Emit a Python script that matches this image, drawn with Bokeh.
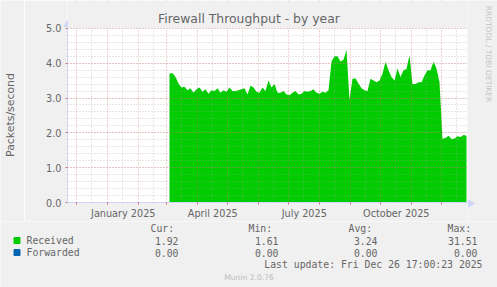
import datetime as dt
from bokeh.plotting import figure
from bokeh.layouts import column, row
from bokeh.models import (FixedTicker, Range1d, ColumnDataSource, PrintfTickFormatter,
                          BoxAnnotation, Label)
from bokeh.core.properties import value
from bokeh.embed import file_html
from bokeh.resources import INLINE

# ---------------- data ----------------
title = "Firewall Throughput - by year"
y_label = "Packets/second"
watermark = "RRDTOOL / TOBI OETIKER"
footer = "Munin 2.0.76"
last_update = "Last update: Fri Dec 26 17:00:23 2025"

series_names = ["Received", "Forwarded"]
series_colors = ["#00CC00", "#0066B3"]
stat_headers = ["Cur:", "Min:", "Avg:", "Max:"]
stat_cur = ["1.92", "0.00"]
stat_min = ["1.61", "0.00"]
stat_avg = ["3.24", "0.00"]
stat_max = ["31.51", "0.00"]

range_start = "2024-11-21 17:00"
range_end = "2025-12-26 17:00"
received_start = "2025-03-03 17:00"
received_step_days = 3
received = [
    3.70, 3.72, 3.60, 3.42, 3.30, 3.32, 3.22, 3.28, 3.15, 3.25,
    3.30, 3.18, 3.25, 3.12, 3.22, 3.20, 3.28, 3.15, 3.22, 3.18,
    3.30, 3.20, 3.20, 3.22, 3.25, 3.28, 3.10, 3.35, 3.30, 3.18,
    3.15, 3.30, 3.20, 3.50, 3.30, 3.40, 3.15, 3.15, 3.20, 3.10,
    3.08, 3.15, 3.20, 3.10, 3.12, 3.20, 3.18, 3.20, 3.25, 3.15,
    3.12, 3.18, 3.15, 3.22, 4.05, 4.20, 4.20, 4.05, 4.10, 4.38,
    2.95, 3.55, 3.56, 3.42, 3.28, 3.22, 3.20, 3.55, 3.50, 3.45,
    3.50, 3.70, 4.04, 3.80, 3.60, 3.50, 3.85, 3.60, 3.80, 3.83,
    4.23, 3.40, 3.40, 3.45, 3.45, 3.65, 3.80, 3.80, 4.04, 3.85,
    3.45, 1.83, 1.85, 1.92, 1.82, 1.84, 1.90, 1.88, 1.94, 1.92,
]
y_max = 5
y_ticks = [0, 1, 2, 3, 4, 5]
y_minor_step = 0.2
x_label_months = [(2025, 1), (2025, 4), (2025, 7), (2025, 10)]
x_label_texts = ["January 2025", "April 2025", "July 2025", "October 2025"]

# ---------------- layout constants ----------------
W, H = 497, 287
FL, FR, FT, FB = 67, 467, 28, 203      # chart area edges in page pixels
LP = 24                                 # width of the y-label strip
MAIN_H = 221                            # bottom of main chart block
FONT = "DejaVu Sans"
MONO = "DejaVu Sans Mono"
TXT = "#666666"
AX = "#CFD6F8"
MGRID = "#D07070"
GRID = "#A0A0A0"
BG = "#F0F0F0"


def ms(d):
    return (d - dt.datetime(1970, 1, 1)).total_seconds() * 1000.0


def parse(s):
    return dt.datetime.strptime(s, "%Y-%m-%d %H:%M")


x0 = parse(range_start)
x1 = parse(range_end)
rs = parse(received_start)
xs = [ms(rs + dt.timedelta(days=received_step_days * i)) for i in range(len(received))]

month_starts, mid_months = [], []
yy, mm = x0.year, x0.month
while True:
    d = dt.datetime(yy, mm, 1)
    if d > x1:
        break
    if d >= x0:
        month_starts.append(ms(d))
    mid = d + dt.timedelta(days=15)
    if x0 <= mid <= x1:
        mid_months.append(ms(mid))
    mm += 1
    if mm > 12:
        mm, yy = 1, yy + 1

label_pos = []
for (ly, lm) in x_label_months:
    a = dt.datetime(ly, lm, 1)
    b = dt.datetime(ly + (lm == 12), lm % 12 + 1, 1)
    label_pos.append(ms(a + (b - a) / 2))


def pane(left, right, top, bottom):
    """A plain figure whose data coordinates equal page pixels (y measured from page top)."""
    f = figure(width=right - left, height=bottom - top, output_backend="svg",
               toolbar_location=None, title=None,
               x_range=Range1d(left, right), y_range=Range1d(H - bottom, H - top),
               min_border=0, frame_align=False)
    f.min_border_left = f.min_border_right = f.min_border_top = f.min_border_bottom = 0
    f.axis.visible = False
    f.grid.visible = False
    f.outline_line_color = None
    f.background_fill_color = BG
    f.border_fill_color = BG
    return f


def txt(f, s, x, y, size, font=FONT, color=TXT, align="left", angle=0.0):
    return f.text(x=[x], y=[y], text=[s], text_font=value(font), text_font_size=size,
                  text_color=color, text_align=align, text_baseline="middle", angle=angle)


# ---------------- y-label strip ----------------
lp = pane(0, LP, 0, MAIN_H)
txt(lp, y_label, 10, H - 114.5, "10.9px", align="center", angle=1.5708)

# ---------------- main chart (frame reaches page top; area above y_max painted as background) ----
upp = y_max / (FB - FT)                 # data units per pixel
y_top_val = y_max + FT * upp
p = figure(width=FR - LP, height=MAIN_H, output_backend="svg", toolbar_location=None,
           title=None, x_range=Range1d(ms(x0), ms(x1)), y_range=Range1d(0, y_top_val),
           frame_align=False, min_border_left=FL - LP, min_border_right=0,
           min_border_top=0, min_border_bottom=MAIN_H - FB)
p.background_fill_color = "white"
p.border_fill_color = BG
p.outline_line_color = None

src = ColumnDataSource(dict(x=xs, y=received, z=[0] * len(received)))
p.varea(x="x", y1="z", y2="y", source=src, fill_color=series_colors[0])

p.xgrid.ticker = FixedTicker(ticks=month_starts, minor_ticks=mid_months)
p.ygrid.ticker = FixedTicker(ticks=y_ticks,
                             minor_ticks=[round(i * y_minor_step, 2) for i in range(int(y_max / y_minor_step) + 1)])
for g in (p.xgrid, p.ygrid):
    g.grid_line_color = MGRID
    g.grid_line_alpha = 0.6
    g.grid_line_dash = "1 2"
    g.minor_grid_line_color = GRID
    g.minor_grid_line_alpha = 0.5
    g.minor_grid_line_dash = "1 2"
    g.level = "overlay"

# background above the chart area
p.add_layout(BoxAnnotation(bottom=y_max, fill_color=BG, fill_alpha=1.0, line_color=None,
                           level="overlay"))
# title, drawn on top of that band
p.add_layout(Label(x=ms(x0) + (248.5 - FL) * (ms(x1) - ms(x0)) / (FR - FL), y=(FB - 18) * upp,
                   text=title, text_font=FONT, text_font_size="12.4px", text_color=TXT,
                   text_align="center", text_baseline="middle", level="overlay"))

p.yaxis.ticker = FixedTicker(ticks=y_ticks)
p.yaxis.bounds = (0, y_max)
p.yaxis.formatter = PrintfTickFormatter(format="%.1f")
p.xaxis.ticker = FixedTicker(ticks=label_pos, minor_ticks=month_starts)
p.xaxis.major_label_overrides = {v: t for v, t in zip(label_pos, x_label_texts)}
for ax in (p.xaxis[0], p.yaxis[0]):
    ax.axis_line_color = AX
    ax.major_label_text_color = TXT
    ax.major_label_text_font = FONT
    ax.major_label_text_font_size = "9.7px"
    ax.major_tick_in = 0
    ax.minor_tick_in = 0
p.yaxis.major_tick_out = 2
p.yaxis.major_tick_line_color = MGRID
p.yaxis.minor_tick_out = 2
p.yaxis.minor_tick_line_color = None
p.yaxis.major_label_standoff = 4
p.xaxis.major_tick_out = 0
p.xaxis.major_tick_line_color = None
p.xaxis.minor_tick_out = 2
p.xaxis.minor_tick_line_color = MGRID
p.xaxis.major_label_standoff = 3

# y-axis arrow above the chart area
r = p.segment(x0=[ms(x0)], y0=[0], x1=[ms(x0)], y1=[(FB - 24) * upp], line_color=AX, line_width=1)
r.level = "overlay"
r = p.scatter(x=[ms(x0)], y=[(FB - 24) * upp], marker="triangle", size=7,
              fill_color=AX, line_color=AX)
r.level = "overlay"

# ---------------- right strip (watermark + x-axis arrow) ----------------
rt = pane(FR, W, 0, MAIN_H)
txt(rt, watermark, 488, H - 53.5, "7.5px", color="#C4C4C4", align="center", angle=-1.5708)
rt.segment(x0=[FR], y0=[H - FB], x1=[FR + 3], y1=[H - FB], line_color=AX, line_width=1)
rt.scatter(x=[FR + 3], y=[H - FB], marker="triangle", size=7, angle=-1.5708,
           fill_color=AX, line_color=AX)

# ---------------- legend strip ----------------
lg = pane(0, W, MAIN_H, H)
col_left = [150, 248, 348, 447]
col_right = [178, 278, 377, 477]
for h, xl in zip(stat_headers, col_left):
    txt(lg, h, xl, H - 228, "9.8px", font=MONO)
rows_y = [240, 252]
for i, (name, color) in enumerate(zip(series_names, series_colors)):
    ry = H - rows_y[i]
    lg.scatter(x=[16.5], y=[ry], marker="square", size=6, fill_color=color, line_color=color)
    txt(lg, name, 26, ry, "9.8px", font=MONO)
    for val, xr in zip((stat_cur[i], stat_min[i], stat_avg[i], stat_max[i]), col_right):
        txt(lg, val, xr, ry, "9.8px", font=MONO, align="right")
txt(lg, last_update, 482, H - 264, "9.8px", font=MONO, align="right")
txt(lg, footer, 248.5, H - 277, "7.6px", color="#BDBDBD", align="center")

layout = column(row(lp, p, rt, spacing=0), lg, spacing=0)
open("out.html", "w").write(file_html(layout, INLINE))
